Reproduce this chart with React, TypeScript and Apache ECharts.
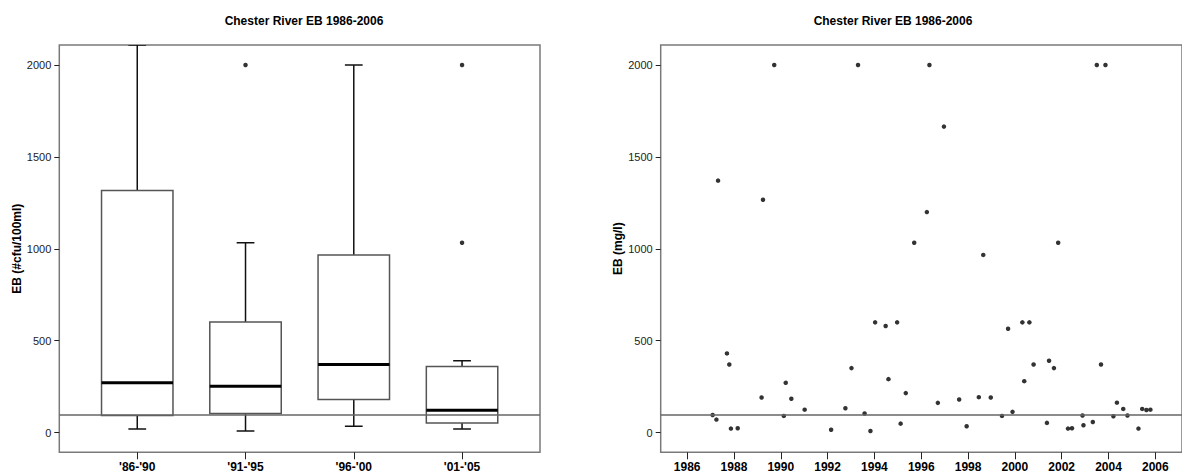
import React, { useEffect, useRef } from 'react';
import * as echarts from 'echarts';

// ---- Left panel: boxplot by period ----
const periods = ["'86-'90", "'91-'95", "'96-'00", "'01-'05"];
const whiskerLow = [20, 9, 35, 20];
const quartile1 = [93, 104, 180, 53];
const medians = [271, 253, 371, 122];
const quartile3 = [1318, 602, 967, 360];
const whiskerHigh = [2109, 1033, 2000, 391];
const outlierPeriod = [1, 3, 3];
const outlierValue = [2000, 2000, 1033];

// ---- Right panel: individual samples ----
const sampleYear = [
  1987.09, 1987.25, 1987.32, 1987.7, 1987.8, 1987.87, 1988.16, 1989.18, 1989.24, 1989.72,
  1990.13, 1990.21, 1990.45, 1991.02, 1992.15, 1992.76, 1993.02, 1993.3, 1993.58, 1993.83,
  1994.03, 1994.48, 1994.6, 1994.97, 1995.12, 1995.34, 1995.7, 1996.24, 1996.35, 1996.71,
  1996.97, 1997.62, 1997.94, 1998.46, 1998.65, 1998.97, 1999.45, 1999.71, 1999.9, 2000.32,
  2000.4, 2000.62, 2000.8, 2001.37, 2001.46, 2001.67, 2001.85, 2002.27, 2002.44, 2002.89,
  2002.93, 2003.33, 2003.5, 2003.68, 2003.87, 2004.21, 2004.36, 2004.63, 2004.81, 2005.28,
  2005.44, 2005.62, 2005.79,
];
const sampleEB = [
  96, 71, 1371, 431, 371, 22, 24, 191, 1267, 2000,
  91, 271, 184, 125, 16, 133, 351, 2000, 104, 9,
  600, 580, 291, 600, 49, 215, 1033, 1200, 2000, 162,
  1665, 180, 35, 193, 967, 191, 91, 565, 113, 600,
  280, 600, 371, 53, 391, 351, 1033, 22, 24, 93,
  40, 58, 2000, 371, 2000, 89, 163, 129, 93, 22,
  129, 123, 125,
];

const yTicks = [0, 500, 1000, 1500, 2000];
const yearTicks = [1986, 1988, 1990, 1992, 1994, 1996, 1998, 2000, 2002, 2004, 2006];
const standardLine = 100;
const titleText = 'Chester River EB 1986-2006';
const leftYName = 'EB (#cfu/100ml)';
const rightYName = 'EB (mg/l)';

const FONT = '"Liberation Sans", Arial, sans-serif';

export default function App() {
  const ref = useRef<HTMLDivElement>(null);

  useEffect(() => {
    document.body.style.margin = '0';
    if (!ref.current) return;
    const chart = echarts.init(ref.current, undefined, { renderer: 'svg' });

    const boxData = periods.map((_, i) => [
      i, whiskerLow[i], quartile1[i], medians[i], quartile3[i], whiskerHigh[i],
    ]);
    const outlierData = outlierPeriod.map((p, i) => [p, outlierValue[i]]);
    const sampleData = sampleYear.map((y, i) => [y, sampleEB[i]]);

    const renderBox = (params: any, api: any) => {
      const i = api.value(0);
      const lo = api.coord([i, api.value(1)]);
      const b1 = api.coord([i, api.value(2)]);
      const md = api.coord([i, api.value(3)]);
      const b3 = api.coord([i, api.value(4)]);
      const hi = api.coord([i, api.value(5)]);
      const left = api.coord([i - 0.33, 0])[0];
      const right = api.coord([i + 0.33, 0])[0];
      const capL = api.coord([i - 0.082, 0])[0];
      const capR = api.coord([i + 0.082, 0])[0];
      const cx = lo[0];
      const wStyle = { stroke: '#111', lineWidth: 1.5 };
      return {
        type: 'group',
        children: [
          { type: 'line', shape: { x1: cx, y1: lo[1], x2: cx, y2: b1[1] }, style: wStyle },
          { type: 'line', shape: { x1: cx, y1: b3[1], x2: cx, y2: hi[1] }, style: wStyle },
          { type: 'line', shape: { x1: capL, y1: lo[1], x2: capR, y2: lo[1] }, style: wStyle },
          { type: 'line', shape: { x1: capL, y1: hi[1], x2: capR, y2: hi[1] }, style: wStyle },
          {
            type: 'rect',
            shape: { x: left, y: b3[1], width: right - left, height: b1[1] - b3[1] },
            style: { fill: 'none', stroke: '#555', lineWidth: 1.5 },
          },
          { type: 'line', shape: { x1: left, y1: md[1], x2: right, y2: md[1] }, style: { stroke: '#000', lineWidth: 3 } },
        ],
      };
    };

    const yAxisCommon = (name: string, gap: number) => ({
      type: 'value',
      min: -107,
      max: 2109,
      name,
      nameLocation: 'middle',
      nameRotate: 90,
      nameGap: gap,
      nameTextStyle: { fontFamily: FONT, fontSize: 12, fontWeight: 'bold', color: '#000' },
      axisLine: { show: false, onZero: false },
      axisTick: { show: true, customValues: yTicks, length: 5, lineStyle: { color: '#222', width: 1 } },
      axisLabel: {
        customValues: yTicks,
        formatter: (v: number) => String(Math.round(v)),
        margin: 8,
        fontFamily: FONT,
        fontSize: 11,
        color: '#222',
      },
      splitLine: { show: false },
    });

    const markLine = {
      silent: true,
      symbol: 'none',
      label: { show: false },
      lineStyle: { color: '#666', width: 1.5, type: 'solid' },
      data: [{ yAxis: standardLine }],
    };

    const gridCommon = {
      show: true,
      borderColor: '#7a7a7a',
      borderWidth: 1.5,
      backgroundColor: 'transparent',
      containLabel: false,
    };

    const titleStyle = { fontFamily: FONT, fontSize: 12, fontWeight: 'bold', color: '#000' };

    chart.setOption({
      animation: false,
      title: [
        { text: titleText, left: 299, top: 10, textAlign: 'center', textStyle: titleStyle },
        { text: titleText, left: 888, top: 10, textAlign: 'center', textStyle: titleStyle },
      ],
      grid: [
        { ...gridCommon, left: 59.3, top: 45, width: 480.7, height: 407.3 },
        { ...gridCommon, left: 660.7, top: 45, width: 525.3, height: 407.3 },
      ],
      xAxis: [
        {
          type: 'value',
          gridIndex: 0,
          min: -0.72,
          max: 3.72,
          axisLine: { show: false, onZero: false },
          axisTick: { show: true, customValues: [0, 1, 2, 3], length: 7, lineStyle: { color: '#222', width: 1 } },
          axisLabel: {
            customValues: [0, 1, 2, 3],
            formatter: (v: number) => periods[Math.round(v)] ?? '',
            margin: 9,
            fontFamily: FONT,
            fontSize: 12,
            fontWeight: 'bold',
            color: '#000',
          },
          splitLine: { show: false },
        },
        {
          type: 'value',
          gridIndex: 1,
          min: 1984.87,
          max: 2007.14,
          axisLine: { show: false, onZero: false },
          axisTick: { show: true, customValues: yearTicks, length: 7, lineStyle: { color: '#222', width: 1 } },
          axisLabel: {
            customValues: yearTicks,
            formatter: (v: number) => String(Math.round(v)),
            margin: 9,
            fontFamily: FONT,
            fontSize: 12,
            fontWeight: 'bold',
            color: '#000',
          },
          splitLine: { show: false },
        },
      ],
      yAxis: [
        { ...yAxisCommon(leftYName, 36), gridIndex: 0 },
        { ...yAxisCommon(rightYName, 35), gridIndex: 1 },
      ],
      series: [
        {
          type: 'custom',
          xAxisIndex: 0,
          yAxisIndex: 0,
          renderItem: renderBox,
          encode: { x: 0, y: [1, 2, 3, 4, 5] },
          data: boxData,
          clip: true,
          z: 2,
        },
        {
          type: 'scatter',
          xAxisIndex: 0,
          yAxisIndex: 0,
          symbol: 'circle',
          symbolSize: 4.5,
          itemStyle: { color: '#000' },
          data: outlierData,
          markLine,
          z: 3,
        },
        {
          type: 'scatter',
          xAxisIndex: 1,
          yAxisIndex: 1,
          symbol: 'circle',
          symbolSize: 4.5,
          itemStyle: { color: '#000' },
          data: sampleData,
          markLine,
          z: 3,
        },
      ],
    });

    return () => chart.dispose();
  }, []);

  return <div ref={ref} style={{ width: 1182, height: 476, background: '#fff' }} />;
}
